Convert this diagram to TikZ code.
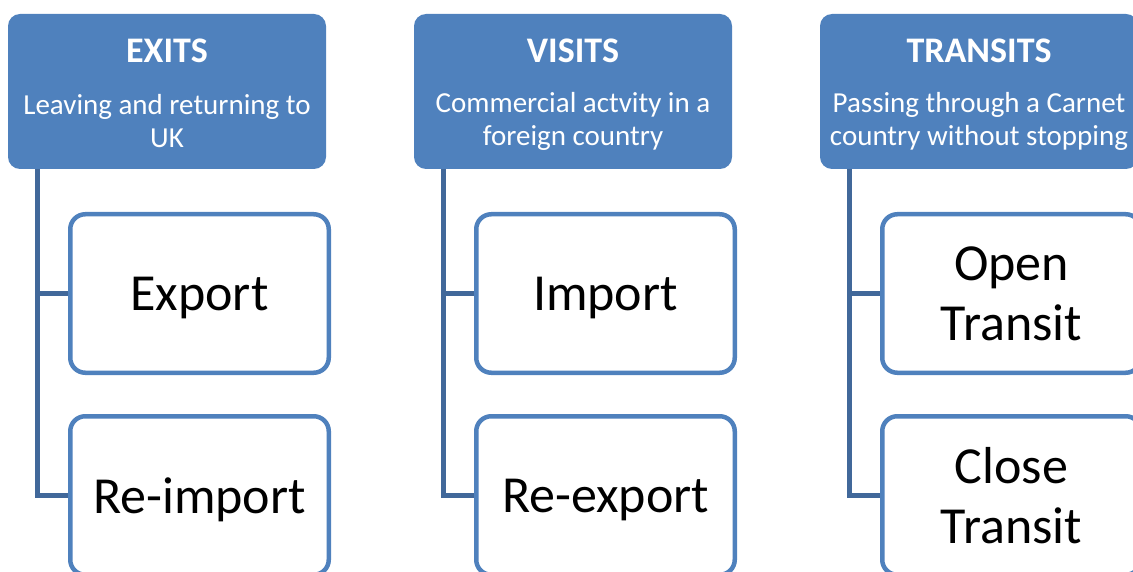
\documentclass[tikz,border=0pt]{standalone}
\usepackage{fontspec}
\setmainfont{Carlito}
\definecolor{hdrblue}{HTML}{4F81BD}
\definecolor{linkblue}{HTML}{41689A}
\begin{document}
\begin{tikzpicture}[x=1pt,y=-1pt,
  hdr/.style={fill=hdrblue, rounded corners=12pt, minimum width=318pt,
    minimum height=155pt, inner sep=0pt},
  hdrtitle/.style={text=white, anchor=base, inner sep=0pt,
    font=\fontsize{36}{42}\selectfont\bfseries},
  hdrsub/.style={text=white, align=center, inner sep=0pt,
    font=\fontsize{29}{33}\selectfont},
  item/.style={draw=hdrblue, line width=4.5pt, fill=white, rounded corners=15pt,
    minimum width=258.5pt, minimum height=158.5pt, inner sep=0pt, align=center,
    text depth=0pt, font=\fontsize{52}{60}\selectfont},
  conn/.style={draw=linkblue, line width=5pt}]
\useasboundingbox (0,0) rectangle (1133,572);
\clip (0,0) rectangle (1133,572);

% three columns: a header with its two steps hanging from a spine
\foreach \col/\dx/\title/\sub/\stepa/\stepb in {
  1/0/EXITS/{Leaving and returning to\\UK}/Export/Re-import,
  2/406/VISITS/{Commercial actvity in a\\foreign country}/Import/Re-export,
  3/812/TRANSITS/{Passing through a Carnet\\country without stopping}/{Open\\Transit}/{Close\\Transit}}{
  \begin{scope}[xshift=\dx pt]
    \node[hdr] (h\col) at (167,91.5) {};
    \node[hdrtitle] (t\col) at (167,63) {\title};
    \node[hdrsub] (s\col) at (167,121) {\sub};
    \node[item] (a\col) at (199.5,293.5) {\stepa};
    \node[item] (b\col) at (199.5,495.5) {\stepb};
    \coordinate (spine\col) at (37,169);
  \end{scope}
  \draw[conn] (spine\col |- a\col.west) -- (a\col.west);
  \draw[conn] (spine\col) |- (b\col.west);
}
\end{tikzpicture}
\end{document}
